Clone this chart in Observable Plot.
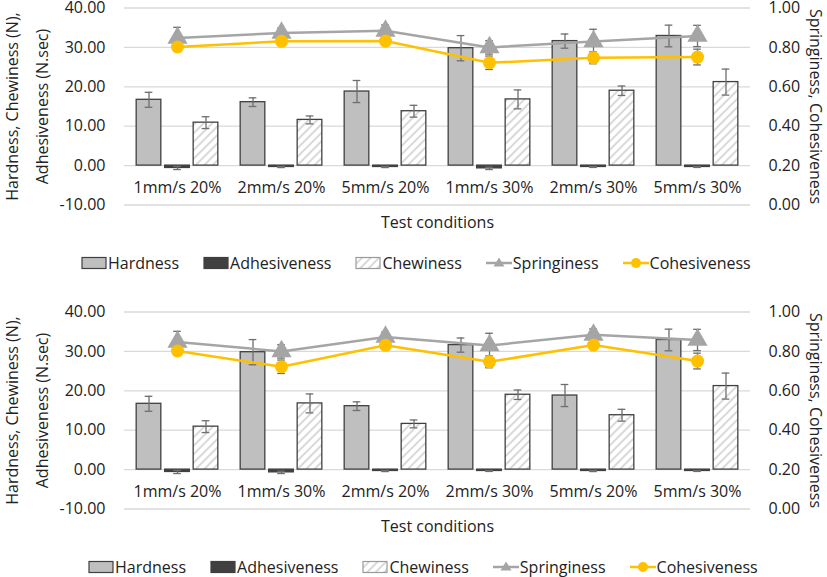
<!DOCTYPE html>
<html>
<head>
<meta charset="utf-8">
<script src="https://cdn.jsdelivr.net/npm/d3@7"></script>
<script src="https://cdn.jsdelivr.net/npm/@observablehq/plot@0.6"></script>
<style>
  html, body { margin: 0; padding: 0; background: #fff; overflow: hidden; }
  body { font-family: "Open Sans", sans-serif; }
  #root { position: relative; width: 827px; height: 577px; }
  .panel { position: absolute; left: 0; width: 827px; height: 300px; }
  .panel svg.chart { position: absolute; left: 0; top: 0; }
  .legend { position: absolute; left: 0; top: 251px; height: 24px; display: flex; align-items: center;
            font-size: 16px; color: #222; white-space: nowrap; }
  .legend .item { display: flex; align-items: center; }
  .legend .item svg { margin-right: 1px; }
</style>
</head>
<body>
<svg width="0" height="0" style="position:absolute">
  <defs>
    <pattern id="hatch" width="6" height="6" patternUnits="userSpaceOnUse" patternTransform="rotate(45)">
      <rect width="6" height="6" fill="#ffffff"></rect>
      <line x1="1" y1="0" x2="1" y2="6" stroke="#c9c9c9" stroke-width="1.4"></line>
    </pattern>
  </defs>
</svg>
<div id="root"></div>
<script>
// ---------- data ----------
const conditionsTop = ["1mm/s 20%", "2mm/s 20%", "5mm/s 20%", "1mm/s 30%", "2mm/s 30%", "5mm/s 30%"];
const conditionsBottom = ["1mm/s 20%", "1mm/s 30%", "2mm/s 20%", "2mm/s 30%", "5mm/s 20%", "5mm/s 30%"];

// values listed in conditionsTop order
const hardness       = [16.7, 16.1, 18.8, 29.8, 31.6, 32.9];
const hardnessErr    = [1.9, 1.1, 2.8, 3.2, 1.8, 2.75];
const adhesiveness   = [-0.6, -0.35, -0.35, -0.7, -0.35, -0.35];
const adhesivenessErr= [0.4, 0.15, 0.15, 0.3, 0.12, 0.12];
const chewiness      = [10.9, 11.6, 13.8, 16.8, 19.0, 21.2];
const chewinessErr   = [1.5, 1.0, 1.5, 2.4, 1.2, 3.3];
const springiness    = [0.848, 0.873, 0.884, 0.800, 0.830, 0.858];
const springinessErr = [0.054, 0.025, 0.030, 0.034, 0.062, 0.054];
const cohesiveness   = [0.802, 0.831, 0.832, 0.722, 0.747, 0.751];
const cohesivenessErr= [0.015, 0.012, 0.012, 0.034, 0.030, 0.040];

const leftTicks  = [-10, 0, 10, 20, 30, 40];
const rightTicks = [0, 0.2, 0.4, 0.6, 0.8, 1.0];
const xTitle = "Test conditions";
const yLeftTitle = ["Hardness, Chewiness (N),", "Adhesiveness (N.sec)"];
const yRightTitle = "Springiness, Cohesiveness";
const seriesNames = ["Hardness", "Adhesiveness", "Chewiness", "Springiness", "Cohesiveness"];

// ---------- styling ----------
const C = { hard: "#bfbfbf", adh: "#404040", edge: "#404040", err: "#6e6e6e", spring: "#a5a5a5", coh: "#ffc000", grid: "#d9d9d9", text: "#222" };

// right axis (0..1) mapped onto left axis (-10..40)
const toLeft = v => -10 + 50 * v;
const fromLeft = y => (y + 10) / 50;

function makePanel(order) {
  const rows = order.map(c => {
    const i = conditionsTop.indexOf(c);
    return {
      cond: c,
      h: hardness[i], he: hardnessErr[i],
      a: adhesiveness[i], ae: adhesivenessErr[i],
      c: chewiness[i], ce: chewinessErr[i],
      s: springiness[i], se: springinessErr[i],
      k: cohesiveness[i], ke: cohesivenessErr[i]
    };
  });
  const width = 827, marginLeft = 124, marginRight = 77, marginTop = 7.5, height = 240, marginBottom = 35.5;
  const bw = (width - marginLeft - marginRight) / order.length;
  const barW = 25, capW = 8, off = 28.5;
  const ins = (bw - barW) / 2, capIns = (bw - capW) / 2;

  const bar = (y, fill, dx) => Plot.barY(rows, { x: "cond", y, fill, stroke: C.edge, strokeWidth: 1.3, insetLeft: ins, insetRight: ins, dx });
  const err = (lo, hi, dx, color = C.err) => [
    Plot.ruleX(rows, { x: "cond", y1: lo, y2: hi, stroke: color, strokeWidth: 1.3, dx }),
    Plot.tickY(rows, { x: "cond", y: lo, stroke: color, strokeWidth: 1.3, insetLeft: capIns, insetRight: capIns, dx }),
    Plot.tickY(rows, { x: "cond", y: hi, stroke: color, strokeWidth: 1.3, insetLeft: capIns, insetRight: capIns, dx })
  ];

  return Plot.plot({
    width, height, marginLeft, marginRight, marginTop, marginBottom,
    style: { fontFamily: "Open Sans, sans-serif", fontSize: "16px", color: C.text, overflow: "visible", background: "transparent" },
    x: { type: "band", domain: order, padding: 0 },
    y: { domain: [-10, 40] },
    marks: [
      Plot.ruleY(leftTicks, { stroke: C.grid, strokeWidth: 1.3 }),
      bar("h", C.hard, -off),
      bar("a", C.adh, 0),
      bar("c", "url(#hatch)", off),
      ...err(d => d.h - d.he, d => d.h + d.he, -off),
      ...err(d => d.a - d.ae, d => d.a + d.ae, 0),
      ...err(d => d.c - d.ce, d => d.c + d.ce, off),
      Plot.line(rows, { x: "cond", y: d => toLeft(d.s), stroke: C.spring, strokeWidth: 2.5 }),
      Plot.line(rows, { x: "cond", y: d => toLeft(d.k), stroke: C.coh, strokeWidth: 2.5 }),
      ...err(d => toLeft(d.s - d.se), d => toLeft(d.s + d.se), 0),
      ...err(d => toLeft(d.k - d.ke), d => toLeft(d.k + d.ke), 0),
      Plot.dot(rows, { x: "cond", y: d => toLeft(d.s), symbol: "triangle", r: 7.5, fill: C.spring, stroke: "none" }),
      Plot.dot(rows, { x: "cond", y: d => toLeft(d.k), r: 6.5, fill: C.coh, stroke: "none" }),
      Plot.axisY(leftTicks, { anchor: "left", tickSize: 0, tickPadding: 19, tickFormat: d => d.toFixed(2), label: null, fill: C.text }),
      Plot.axisY(rightTicks.map(toLeft), { anchor: "right", tickSize: 0, tickPadding: 18, tickFormat: d => fromLeft(d).toFixed(2), label: null, fill: C.text }),
      Plot.axisX({ tickSize: 0, tickPadding: 0, dy: -23, label: null, fill: C.text }),
      Plot.text([xTitle], { frameAnchor: "bottom", dy: 17.5, lineAnchor: "middle", fill: C.text, fontSize: 16 }),
      Plot.text([yLeftTitle[0]], { frameAnchor: "left", dx: -112, rotate: -90, textAnchor: "middle", lineAnchor: "middle", fill: C.text, fontSize: 16 }),
      Plot.text([yLeftTitle[1]], { frameAnchor: "left", dx: -82, rotate: -90, textAnchor: "middle", lineAnchor: "middle", fill: C.text, fontSize: 16 }),
      Plot.text([yRightTitle], { frameAnchor: "right", dx: 65, rotate: 90, textAnchor: "middle", lineAnchor: "middle", fill: C.text, fontSize: 16 })
    ]
  });
}

function swatch(kind) {
  const s = d3.create("svg").attr("width", 26).attr("height", 16);
  if (kind === 0 || kind === 1 || kind === 2) {
    const fill = kind === 0 ? C.hard : kind === 1 ? C.adh : "url(#hatch)";
    s.append("rect").attr("x", 1).attr("y", 2.5).attr("width", 24).attr("height", 11)
      .attr("fill", fill).attr("stroke", kind === 2 ? "#9a9a9a" : C.edge).attr("stroke-width", 1.2);
  } else {
    const col = kind === 3 ? C.spring : C.coh;
    s.append("line").attr("x1", 0).attr("x2", 26).attr("y1", 8).attr("y2", 8).attr("stroke", col).attr("stroke-width", 2.5);
    if (kind === 3) s.append("path").attr("d", "M13,2.5 L18.5,11.5 L7.5,11.5 Z").attr("fill", col);
    else s.append("circle").attr("cx", 13).attr("cy", 8).attr("r", 5).attr("fill", col);
  }
  return s.node();
}

function makeLegend(left, gap) {
  const div = document.createElement("div");
  div.className = "legend";
  div.style.left = left + "px";
  div.style.gap = gap + "px";
  seriesNames.forEach((name, i) => {
    const it = document.createElement("div");
    it.className = "item";
    it.appendChild(swatch(i));
    const t = document.createElement("span");
    t.textContent = name;
    it.appendChild(t);
    div.appendChild(it);
  });
  return div;
}

const root = document.getElementById("root");
[[conditionsTop, 0, 81, 24], [conditionsBottom, 304, 88, 24]].forEach(([order, top, lx, gap]) => {
  const p = document.createElement("div");
  p.className = "panel";
  p.style.top = top + "px";
  const svg = makePanel(order);
  svg.classList.add("chart");
  p.appendChild(svg);
  p.appendChild(makeLegend(lx, gap));
  root.appendChild(p);
});
</script>
</body>
</html>
